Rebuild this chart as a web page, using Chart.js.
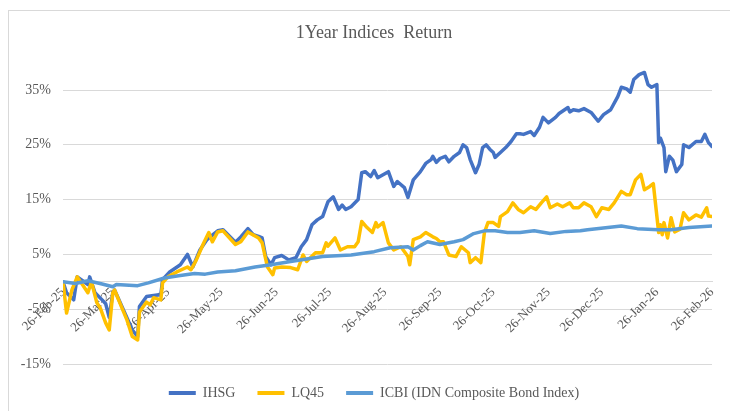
<!DOCTYPE html>
<html>
<head>
<meta charset="utf-8">
<script src="https://cdn.jsdelivr.net/npm/chart.js@4.4.1/dist/chart.umd.min.js"></script>
<style>
  html, body { margin: 0; padding: 0; background: #fff; overflow: hidden; }
  #wrap { position: relative; width: 730px; height: 411px; overflow: hidden; }
  #frame { position: absolute; left: 8px; top: 10px; width: 800px; height: 500px; border: 1px solid #d9d9d9; }
  canvas { position: absolute; left: 0; top: 0; }
</style>
</head>
<body>
<div id="wrap">
  <div id="frame"></div>
  <canvas id="myChart" width="748" height="411"></canvas>
</div>
<script>
// x values are days since 26-Feb-25
const monthDays = [0, 28, 59, 89, 120, 150, 181, 212, 242, 273, 303, 334, 365];
const monthLabels = ["26-Feb-25", "26-Mar-25", "26-Apr-25", "26-May-25", "26-Jun-25", "26-Jul-25",
  "26-Aug-25", "26-Sep-25", "26-Oct-25", "26-Nov-25", "26-Dec-25", "26-Jan-26", "26-Feb-26"];
const yTicks = [-15, -5, 5, 15, 25, 35];

const ihsgDays = [0,2,6,8,14,15,18,22,24,26,28,29,39,42,43,47,53,55,56,60,66,70,73,77,81,84,87,90,97,100,
  104,107,110,112,114,117,119,123,127,131,134,137,140,143,146,148,149,152,155,157,159,162,166,168,170,173,
  175,177,183,186,188,192,194,197,201,204,207,208,210,212,215,217,220,223,225,227,229,232,234,236,238,240,
  242,243,246,249,252,255,257,259,263,265,268,270,273,277,279,284,285,287,290,293,297,301,304,308,312,314,
  317,319,321,324,327,329,331,334,335,336,338,339,341,343,345,348,349,352,356,359,361,363,365];
const ihsgVals = [0,-2,-3.3,0.9,-0.5,0.9,-2,-3.3,-4,-6.5,-2,-1.5,-8.8,-10,-4.5,-2.7,-2.4,-2.4,0.4,1.8,3.1,5,
  2.7,5.8,7.7,8.5,9.3,9.5,7.2,8.2,9.7,8.6,8.3,8,4.6,3.1,4.4,4.8,4,4.4,6.4,7.7,10.4,11.3,11.9,13.7,14.6,15.5,
  13.2,14,13.2,13.7,15,19.9,20.1,19.2,20.3,19,20.1,17.4,18.3,17.2,15.4,18.6,20.1,21.6,22.3,22.9,21.8,22.5,
  22.9,21.9,22.9,23.6,25,24.5,22.3,19.9,21.4,24.5,25,24.2,23.6,22.7,23.6,24.5,25.6,27,27,26.9,27.4,26.7,28.2,
  30,29,30,30.7,31.8,31,31.4,31.2,31.6,30.9,29.3,30.5,31.4,33.8,35.5,35.2,34.6,36.9,37.8,38.2,36,35.5,36,
  25.4,26.2,24.5,20.1,22.9,22.2,20.1,21.4,25,24.5,25.6,25.6,26.9,25.4,24.7];

const lqDays = [0,2,5,8,14,16,19,21,24,26,28,29,36,39,42,43,47,49,51,55,56,59,64,70,72,75,79,82,84,87,90,97,
  100,104,110,112,115,118,119,123,128,132,135,137,142,146,148,149,153,156,160,164,166,168,171,174,176,177,
  180,183,186,190,194,195,197,201,204,208,210,212,214,217,221,224,228,229,232,235,237,239,242,245,246,250,
  253,256,259,263,266,269,272,274,278,281,285,287,290,293,297,300,303,307,310,314,317,319,322,325,327,330,
  332,335,336,337,338,340,342,344,347,349,352,356,359,362,363,365];
const lqVals = [0,-5.7,-1.5,0.9,-2,0,-3.8,-4.8,-7.5,-8.8,-2,-1.5,-7,-10,-10.6,-5.5,-3.7,-4.2,-2.9,-3.3,-0.2,
  0.9,1.8,2.7,2.2,4,7,9,7.3,9.1,9.3,6.8,7.3,9.1,8,7.1,2.7,1.3,2.5,2.7,2.6,2.2,4.9,3.7,5.3,5.3,7.1,6.5,8,5.8,
  6.4,6.4,7.3,11,9.9,9,10.8,10,10.8,7.1,5.8,6.4,4.6,3.1,7.7,8.2,9,8.2,7.9,7.3,7.3,4.9,4.6,6.4,5.3,3.5,4.4,3.5,
  9,10.8,10.8,10.1,11.9,12.8,14.4,13.2,12.6,13.7,13.2,14.4,15.5,13.5,14.2,13.7,14.4,13.5,13.5,14.4,13.7,11.9,
  13.5,13.2,14.4,16.5,15.9,15.9,18.6,19.6,16.8,17.4,17.9,9,10.4,8.6,10.8,8,11.7,9.1,9.6,12.6,11.3,12.2,11.8,
  13.5,12,11.9];

const icbiDays = [0,7,14,22,28,30,42,48,57,65,74,80,87,97,108,117,128,146,162,175,184,194,197,201,205,212,220,
  225,231,237,243,250,257,265,274,283,291,295,314,323,335,342,352,365];
const icbiVals = [0,-0.3,0.2,-0.4,-0.9,-0.5,-0.7,-0.2,0.7,1.1,1.5,1.4,1.8,2,2.7,3.1,3.7,4.6,4.9,5.5,6.2,6.4,
  5.8,6.6,7.3,6.8,7.3,7.7,8.8,9.3,9.3,9,9,9.3,8.8,9.2,9.3,9.5,10.2,9.7,9.5,9.5,9.9,10.2];

const toPoints = (days, vals) => days.map((d, i) => ({ x: d, y: vals[i] }));
const textColor = "#595959";
const gridColor = "#d9d9d9";
const serif = "'Liberation Serif', 'Times New Roman', serif";

const lineStyle = { pointRadius: 0, borderWidth: 3.5, tension: 0, borderJoinStyle: "round", borderCapStyle: "round" };

new Chart(document.getElementById("myChart"), {
  type: "line",
  data: {
    datasets: [
      { label: "IHSG", data: toPoints(ihsgDays, ihsgVals), borderColor: "#4472C4", backgroundColor: "#4472C4", order: 2, ...lineStyle },
      { label: "LQ45", data: toPoints(lqDays, lqVals), borderColor: "#FFC000", backgroundColor: "#FFC000", order: 1, ...lineStyle },
      { label: "ICBI (IDN Composite Bond Index)", data: toPoints(icbiDays, icbiVals), borderColor: "#5B9BD5", backgroundColor: "#5B9BD5", order: 0, ...lineStyle },
    ],
  },
  options: {
    responsive: false,
    animation: false,
    devicePixelRatio: 1,
    layout: { padding: { left: 0, right: 0, top: 0, bottom: 1 } },
    plugins: {
      title: {
        display: true,
        text: "1Year Indices  Return",
        color: textColor,
        font: { family: serif, size: 18, weight: "normal" },
        padding: { top: 22, bottom: 19 },
      },
      legend: {
        position: "bottom",
        labels: {
          color: textColor,
          font: { family: serif, size: 14 },
          boxWidth: 27,
          boxHeight: 4,
          padding: 22,
          sort: (a, b) => a.datasetIndex - b.datasetIndex,
          generateLabels: (chart) =>
            Chart.defaults.plugins.legend.labels.generateLabels(chart).map((l) => ({ ...l, fillStyle: l.strokeStyle, lineWidth: 0 })),
        },
      },
      tooltip: { enabled: false },
    },
    scales: {
      x: {
        type: "linear",
        position: { y: 0 },
        min: 0,
        max: 365,
        afterBuildTicks: (scale) => { scale.ticks = monthDays.map((v) => ({ value: v })); },
        grid: { display: false, drawTicks: false },
        border: { display: true, color: gridColor, width: 1 },
        ticks: {
          autoSkip: false,
          maxRotation: 45,
          minRotation: 45,
          padding: 3,
          color: textColor,
          font: { family: serif, size: 13 },
          callback: (v) => monthLabels[monthDays.indexOf(v)],
        },
      },
      y: {
        min: -15,
        max: 40,
        afterBuildTicks: (scale) => { scale.ticks = yTicks.map((v) => ({ value: v })); },
        afterFit: (scale) => { scale.width = 63; },
        grid: { color: gridColor, lineWidth: 1, drawTicks: false },
        border: { display: false },
        ticks: {
          padding: 12,
          color: textColor,
          font: { family: serif, size: 14 },
          callback: (v) => v + "%",
        },
      },
      // empty right-hand axis, only reserves the margin right of the plot
      yRight: {
        position: "right",
        afterFit: (scale) => { scale.width = 36; },
        grid: { display: false },
        border: { display: false },
        ticks: { display: false },
      },
    },
  },
});
</script>
</body>
</html>
